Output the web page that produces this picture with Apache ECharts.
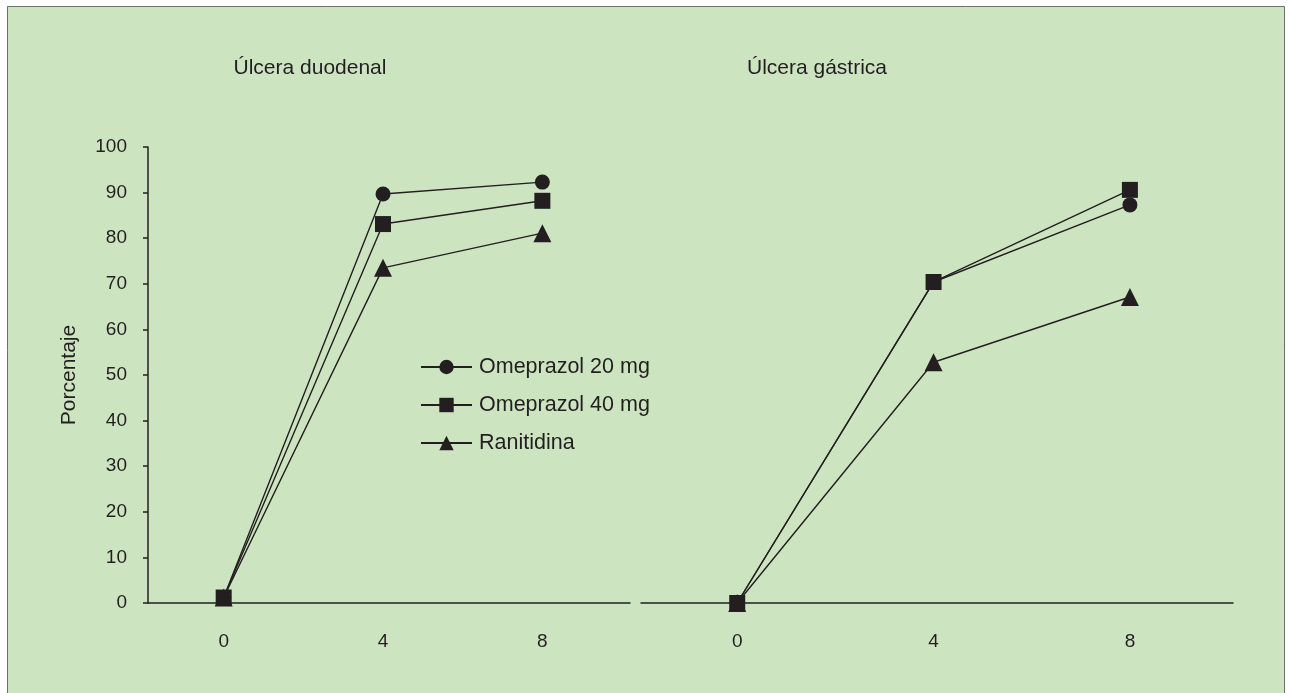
<!DOCTYPE html>
<html><head><meta charset="utf-8">
<script src="https://cdn.jsdelivr.net/npm/echarts@6/dist/echarts.min.js"></script>
<style>html,body{margin:0;padding:0;background:#fff}#c{width:1289px;height:693px}</style>
</head><body><div id="c"></div>
<script>
const weeks = [0, 4, 8];
const xTicks = [0, 4, 8];
const yTicks = [0, 10, 20, 30, 40, 50, 60, 70, 80, 90, 100];
const seriesNames = ['Omeprazol 20 mg', 'Omeprazol 40 mg', 'Ranitidina'];
const duodenalO20 = [1.2, 89.7, 92.3];
const duodenalO40 = [1.2, 83.1, 88.2];
const duodenalRan = [1.2, 73.5, 81.1];
const gastricO20 = [0, 70.4, 87.3];
const gastricO40 = [0, 70.4, 90.6];
const gastricRan = [0, 52.8, 67.1];
const panelTitles = ['Úlcera duodenal', 'Úlcera gástrica'];
const yName = 'Porcentaje';

const ink = '#231f20';
const font = 'Liberation Sans, Arial, sans-serif';
const symbols = ['circle', 'rect', 'triangle'];
const symSizes = [15, 16, 18];
const zs = [3, 4, 2];

function pts(vals){ return weeks.map((w,i)=>[w, vals[i]]); }
function mk(name, idx, vals, panel){
  return {
    type:'line', name, xAxisIndex:panel, yAxisIndex:panel,
    data: pts(vals), symbol: symbols[idx], symbolSize: symSizes[idx],
    showAllSymbol:true, z: zs[idx],
    lineStyle:{color:ink, width:1.4}, itemStyle:{color:ink, borderWidth:0},
    emphasis:{disabled:true}, animation:false
  };
}
const xAxisBase = {
  type:'value', splitLine:{show:false},
  axisLine:{show:true, onZero:false, lineStyle:{color:ink, width:1.5}},
  axisTick:{show:false},
  axisLabel:{customValues:xTicks, color:ink, fontSize:19, fontFamily:font, margin:29}
};
const chart = echarts.init(document.getElementById('c'), null, {renderer:'canvas'});
chart.setOption({
  backgroundColor:'#ffffff',
  animation:false,
  graphic:[{type:'rect', shape:{x:7.5, y:6.5, width:1277, height:700}, style:{fill:'#cde4c1', stroke:'#6d6d6d', lineWidth:1}, z:-10}],
  title:[
    {text:panelTitles[0], left:305, top:53, textAlign:'center', textStyle:{fontSize:21, fontWeight:'normal', color:ink, fontFamily:font}},
    {text:panelTitles[1], left:812, top:53, textAlign:'center', textStyle:{fontSize:21, fontWeight:'normal', color:ink, fontFamily:font}}
  ],
  legend:{
    orient:'vertical', left:415, top:351, itemWidth:51, itemHeight:18, itemGap:16,
    data:seriesNames, textStyle:{fontSize:21.5, lineHeight:22, color:ink, fontFamily:font, padding:[0,0,0,2]},
    selectedMode:false
  },
  grid:[
    {left:148, top:147, width:482, height:456},
    {left:641, top:147, width:592, height:456}
  ],
  xAxis:[
    Object.assign({}, xAxisBase, {gridIndex:0, min:-1.9, max:10.2}),
    Object.assign({}, xAxisBase, {gridIndex:1, min:-1.96, max:10.1})
  ],
  yAxis:[
    {type:'value', gridIndex:0, min:0, max:100, interval:10, splitLine:{show:false},
     name:yName, nameLocation:'middle', nameGap:68, nameRotate:90,
     nameTextStyle:{fontSize:21, color:ink, fontFamily:font},
     axisLine:{show:true, onZero:false, lineStyle:{color:ink, width:1.5}},
     axisTick:{show:true, length:5, lineStyle:{color:ink, width:1.5}},
     axisLabel:{color:ink, fontSize:19, fontFamily:font, margin:21}},
    {type:'value', gridIndex:1, min:0, max:100, interval:10, show:false}
  ],
  series:[
    mk(seriesNames[0], 0, duodenalO20, 0),
    mk(seriesNames[1], 1, duodenalO40, 0),
    mk(seriesNames[2], 2, duodenalRan, 0),
    mk(seriesNames[0], 0, gastricO20, 1),
    mk(seriesNames[1], 1, gastricO40, 1),
    mk(seriesNames[2], 2, gastricRan, 1)
  ]
});
</script></body></html>
